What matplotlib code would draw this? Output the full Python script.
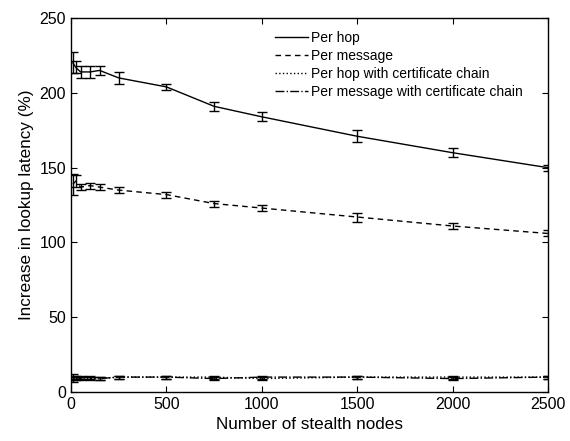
import matplotlib
matplotlib.use('Agg')
import matplotlib.pyplot as plt
from matplotlib.lines import Line2D

plt.rcParams['font.family'] = ['Liberation Sans', 'DejaVu Sans']

nodes = [10, 25, 50, 100, 150, 250, 500, 750, 1000, 1500, 2000, 2500]

per_hop = [220, 217, 214, 214, 215, 210, 204, 191, 184, 171, 160, 150]
per_hop_err = [7, 4, 4, 4, 3, 4, 2, 3, 3, 4, 3, 2]

per_msg = [139, 141, 137, 138, 137, 135, 132, 126, 123, 117, 111, 106]
per_msg_err = [7, 4, 2, 2, 2, 2, 2, 2, 2, 3, 2, 2]

hop_cert = [10, 9, 10, 9, 9, 10, 10, 10, 9, 10, 10, 10]
hop_cert_err = [2, 1, 1, 1, 1, 1, 1, 1, 1, 1, 1, 1]

msg_cert = [9, 10, 9, 10, 9, 10, 10, 9, 10, 10, 9, 10]
msg_cert_err = [2, 1, 1, 1, 1, 1, 1, 1, 1, 1, 1, 1]

labels = ['Per hop', 'Per message', 'Per hop with certificate chain',
          'Per message with certificate chain']
styles = ['-', (0, (4, 3)), ':', '-.']

fig = plt.figure(figsize=(5.7, 4.41), dpi=100)
ax = fig.add_axes([0.1246, 0.111, 0.8368, 0.848])

kw = dict(color='black', lw=1, capsize=3.5, elinewidth=1, capthick=1)
series = [(per_hop, per_hop_err), (per_msg, per_msg_err),
          (hop_cert, hop_cert_err), (msg_cert, msg_cert_err)]
for (vals, err), ls in zip(series, styles):
    ax.errorbar(nodes, vals, yerr=err, ls=ls, **kw)

ax.set_xlim(0, 2500)
ax.set_ylim(0, 250)
ax.set_xticks([0, 500, 1000, 1500, 2000, 2500])
ax.set_yticks([0, 50, 100, 150, 200, 250])
ax.tick_params(direction='in', top=True, right=True, labelsize=11.5, length=4)
for s in ax.spines.values():
    s.set_linewidth(1)
ax.set_xlabel('Number of stealth nodes', fontsize=12.3)
ax.set_ylabel('Increase in lookup latency (%)', fontsize=12.3)

handles = [Line2D([], [], color='black', lw=1, ls=ls) for ls in styles]
ax.legend(handles, labels, loc='upper left', frameon=False, fontsize=10,
          handlelength=2.4, handletextpad=0.2, labelspacing=0.28,
          bbox_to_anchor=(0.415, 0.98), borderaxespad=0)

fig.savefig('out.png', dpi=100)
